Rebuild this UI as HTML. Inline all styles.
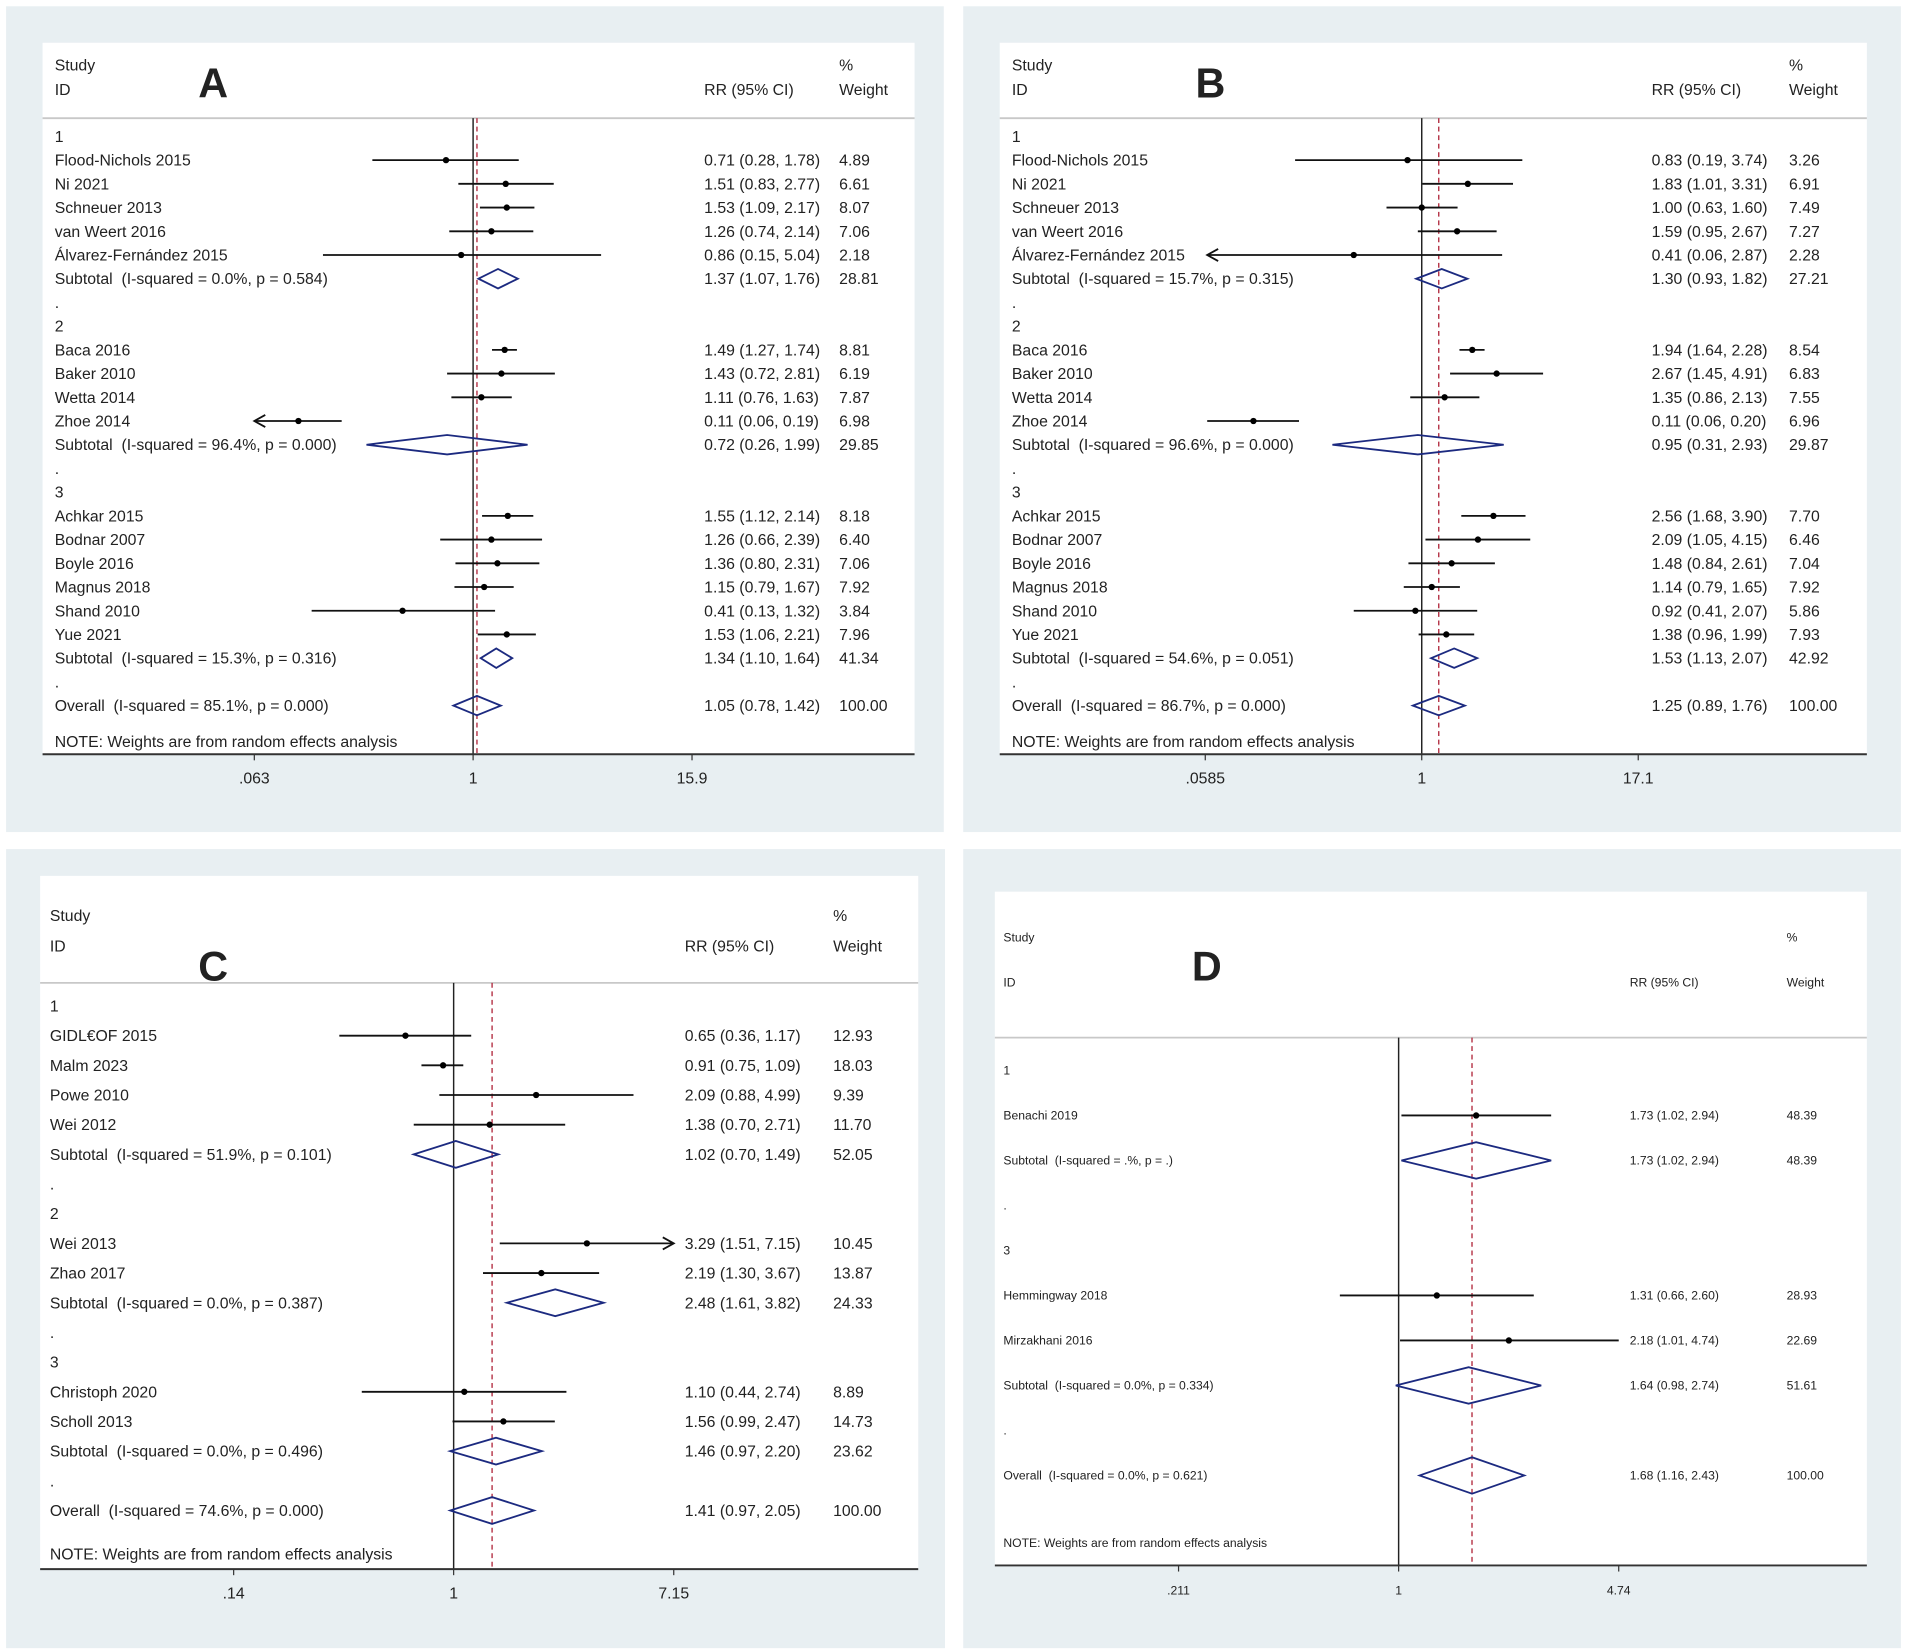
<!DOCTYPE html>
<html><head><meta charset="utf-8">
<style>
html,body{margin:0;padding:0;background:#fff;}
svg{display:block;}
text{font-family:"Liberation Sans",sans-serif;fill:#222;white-space:pre;}
</style></head>
<body>
<svg id="fig" width="1907" height="1652" viewBox="0 0 1568 1358" xmlns="http://www.w3.org/2000/svg"></svg>
<script>
// ---------- Panel A data ----------
const labelsA=["1","Flood-Nichols 2015","Ni 2021","Schneuer 2013","van Weert 2016","Álvarez-Fernández 2015","Subtotal  (I-squared = 0.0%, p = 0.584)",".","2","Baca 2016","Baker 2010","Wetta 2014","Zhoe 2014","Subtotal  (I-squared = 96.4%, p = 0.000)",".","3","Achkar 2015","Bodnar 2007","Boyle 2016","Magnus 2018","Shand 2010","Yue 2021","Subtotal  (I-squared = 15.3%, p = 0.316)",".","Overall  (I-squared = 85.1%, p = 0.000)"];
const kindsA=["h","s","s","s","s","s","d","g","h","s","s","s","s","d","g","h","s","s","s","s","s","s","d","g","d"];
const estA=[null,0.71,1.51,1.53,1.26,0.86,1.37,null,null,1.49,1.43,1.11,0.11,0.72,null,null,1.55,1.26,1.36,1.15,0.41,1.53,1.34,null,1.05];
const loA=[null,0.28,0.83,1.09,0.74,0.15,1.07,null,null,1.27,0.72,0.76,0.06,0.26,null,null,1.12,0.66,0.80,0.79,0.13,1.06,1.10,null,0.78];
const hiA=[null,1.78,2.77,2.17,2.14,5.04,1.76,null,null,1.74,2.81,1.63,0.19,1.99,null,null,2.14,2.39,2.31,1.67,1.32,2.21,1.64,null,1.42];
const wA=[null,4.89,6.61,8.07,7.06,2.18,28.81,null,null,8.81,6.19,7.87,6.98,29.85,null,null,8.18,6.40,7.06,7.92,3.84,7.96,41.34,null,100.00];
const arrA=["","","","","","","","","","","","","L","","","","","","","","","","","",""];
const ticksA=[0.063,1,15.9];
const tickLabA=[".063","1","15.9"];
// ---------- Panel B data ----------
const labelsB=["1","Flood-Nichols 2015","Ni 2021","Schneuer 2013","van Weert 2016","Álvarez-Fernández 2015","Subtotal  (I-squared = 15.7%, p = 0.315)",".","2","Baca 2016","Baker 2010","Wetta 2014","Zhoe 2014","Subtotal  (I-squared = 96.6%, p = 0.000)",".","3","Achkar 2015","Bodnar 2007","Boyle 2016","Magnus 2018","Shand 2010","Yue 2021","Subtotal  (I-squared = 54.6%, p = 0.051)",".","Overall  (I-squared = 86.7%, p = 0.000)"];
const kindsB=kindsA.slice();
const estB=[null,0.83,1.83,1.00,1.59,0.41,1.30,null,null,1.94,2.67,1.35,0.11,0.95,null,null,2.56,2.09,1.48,1.14,0.92,1.38,1.53,null,1.25];
const loB=[null,0.19,1.01,0.63,0.95,0.06,0.93,null,null,1.64,1.45,0.86,0.06,0.31,null,null,1.68,1.05,0.84,0.79,0.41,0.96,1.13,null,0.89];
const hiB=[null,3.74,3.31,1.60,2.67,2.87,1.82,null,null,2.28,4.91,2.13,0.20,2.93,null,null,3.90,4.15,2.61,1.65,2.07,1.99,2.07,null,1.76];
const wB=[null,3.26,6.91,7.49,7.27,2.28,27.21,null,null,8.54,6.83,7.55,6.96,29.87,null,null,7.70,6.46,7.04,7.92,5.86,7.93,42.92,null,100.00];
const arrB=["","","","","","L","","","","","","","","","","","","","","","","","","",""];
const ticksB=[0.0585,1,17.1];
const tickLabB=[".0585","1","17.1"];
// ---------- Panel C data ----------
const labelsC=["1","GIDL€OF 2015","Malm 2023","Powe 2010","Wei 2012","Subtotal  (I-squared = 51.9%, p = 0.101)",".","2","Wei 2013","Zhao 2017","Subtotal  (I-squared = 0.0%, p = 0.387)",".","3","Christoph 2020","Scholl 2013","Subtotal  (I-squared = 0.0%, p = 0.496)",".","Overall  (I-squared = 74.6%, p = 0.000)"];
const kindsC=["h","s","s","s","s","d","g","h","s","s","d","g","h","s","s","d","g","d"];
const estC=[null,0.65,0.91,2.09,1.38,1.02,null,null,3.29,2.19,2.48,null,null,1.10,1.56,1.46,null,1.41];
const loC=[null,0.36,0.75,0.88,0.70,0.70,null,null,1.51,1.30,1.61,null,null,0.44,0.99,0.97,null,0.97];
const hiC=[null,1.17,1.09,4.99,2.71,1.49,null,null,7.15,3.67,3.82,null,null,2.74,2.47,2.20,null,2.05];
const wC=[null,12.93,18.03,9.39,11.70,52.05,null,null,10.45,13.87,24.33,null,null,8.89,14.73,23.62,null,100.00];
const arrC=["","","","","","","","","R","","","","","","","","",""];
const ticksC=[0.14,1,7.15];
const tickLabC=[".14","1","7.15"];
// ---------- Panel D data ----------
const labelsD=["1","Benachi 2019","Subtotal  (I-squared = .%, p = .)",".","3","Hemmingway 2018","Mirzakhani 2016","Subtotal  (I-squared = 0.0%, p = 0.334)",".","Overall  (I-squared = 0.0%, p = 0.621)"];
const kindsD=["h","s","d","g","h","s","s","d","g","d"];
const estD=[null,1.73,1.73,null,null,1.31,2.18,1.64,null,1.68];
const loD=[null,1.02,1.02,null,null,0.66,1.01,0.98,null,1.16];
const hiD=[null,2.94,2.94,null,null,2.60,4.74,2.74,null,2.43];
const wD=[null,48.39,48.39,null,null,28.93,22.69,51.61,null,100.00];
const arrD=["","","","","","","","","",""];
const ticksD=[0.211,1,4.74];
const tickLabD=[".211","1","4.74"];

const NS="http://www.w3.org/2000/svg";
const svg=document.getElementById('fig');
function mk(tag,attrs,parent){const e=document.createElementNS(NS,tag);for(const k in attrs)e.setAttribute(k,attrs[k]);(parent||svg).appendChild(e);return e;}

function panel(P){
  const g=mk('g',{});
  
  
  const bg=mk('rect',{x:P.bx,y:P.by,width:P.bw,height:P.bh,fill:'#e8eff2'},g);
  
  
  const wr=mk('rect',{x:P.wx,y:P.wy,width:P.ww,height:P.axisY-P.wy,fill:'#fff'},g);
  
  
  const xs=v=>P.nullX+Math.log(v)*P.k;
  const fs=P.fs;
  const t=(x,y,s,name,extra)=>{const e=mk('text',Object.assign({x:x,y:y,'font-size':fs},extra||{}),g);e.textContent=s;
    
    return e;};
  // header
  t(P.lx,P.hy1,"Study","header-study");
  t(P.lx,P.hy2,"ID","header-id");
  t(P.rrx,P.hy2,"RR (95% CI)","header-rr");
  t(P.wtx,P.hy1,"%","header-percent");
  t(P.wtx,P.hy2,"Weight","header-weight");
  const L=mk('text',{x:P.Lx,y:P.Ly,'font-size':P.Lfs,'font-weight':'bold',fill:'#000'},g);L.textContent=P.id;
  
  
  const hl=mk('line',{x1:P.wx,x2:P.wx+P.ww,y1:P.hlY,y2:P.hlY,stroke:'#c8c8c8','stroke-width':1.5},g);
  
  
  // null & overall lines
  const nl=mk('line',{x1:P.nullX,x2:P.nullX,y1:P.hlY,y2:P.axisY,stroke:'#222','stroke-width':1.2},g);
  
  
  const oi=P.est.length-1;
  const ol=mk('line',{x1:xs(P.est[oi]),x2:xs(P.est[oi]),y1:P.hlY,y2:P.axisY,stroke:'#b0283c','stroke-width':1.1,'stroke-dasharray':'4,3'},g);
  
  
  const tmin=P.ticks[0],tmax=P.ticks[P.ticks.length-1];
  P.labels.forEach((lab,i)=>{
    const y=P.y0+i*P.dy;
    t(P.lx,y+fs*0.35,lab,'row-label');
    if(P.est[i]==null)return;
    const yc=y;
    t(P.rrx,y+fs*0.35,P.est[i].toFixed(2)+" ("+P.lo[i].toFixed(2)+", "+P.hi[i].toFixed(2)+")",'rr-value');
    t(P.wtx,y+fs*0.35,P.w[i].toFixed(2),'weight-value');
    if(P.kinds[i]==='s'){
      let lo=P.lo[i],hi=P.hi[i];
      if(P.arr[i]==='L')lo=Math.max(lo,tmin);
      if(P.arr[i]==='R')hi=Math.min(hi,tmax);
      const ln=mk('line',{x1:xs(lo),x2:xs(hi),y1:yc,y2:yc,stroke:'#111','stroke-width':P.lw},g);
      
      
      if(P.arr[i]){
        const ax=P.arr[i]==='L'?xs(lo):xs(hi),d=P.arr[i]==='L'?1:-1;
        const a=mk('polyline',{points:(ax+d*9)+","+(yc-5)+" "+ax+","+yc+" "+(ax+d*9)+","+(yc+5),fill:'none',stroke:'#111','stroke-width':P.lw},g);
        
        
      }
      const c=mk('circle',{cx:xs(P.est[i]),cy:yc,r:2.6,fill:'#000'},g);
      
      
    } else {
      const h=P.dh;
      const dm=mk('polygon',{points:xs(P.lo[i])+","+yc+" "+xs(P.est[i])+","+(yc-h)+" "+xs(P.hi[i])+","+yc+" "+xs(P.est[i])+","+(yc+h),fill:'none',stroke:'#1c2a80','stroke-width':1.5},g);
      
      
    }
  });
  t(P.lx,P.noteY,"NOTE: Weights are from random effects analysis","note");
  const ax=mk('line',{x1:P.wx,x2:P.wx+P.ww,y1:P.axisY,y2:P.axisY,stroke:'#333','stroke-width':1.6},g);
  
  
  P.ticks.forEach((v,j)=>{
    const tk=mk('line',{x1:xs(v),x2:xs(v),y1:P.axisY,y2:P.axisY+5,stroke:'#333','stroke-width':1},g);
    
    
    t(xs(v),P.axisY+24,P.tickLab[j],'x-tick-label',{'text-anchor':'middle'});
  });
}

panel({id:"A",labels:labelsA,kinds:kindsA,est:estA,lo:loA,hi:hiA,w:wA,arr:arrA,ticks:ticksA,tickLab:tickLabA,
  bx:5,by:5,bw:771,bh:679,wx:35,wy:35,ww:717,axisY:620,hlY:97,nullX:389,k:65.07,
  y0:112,dy:19.5,noteY:614,lx:45,rrx:579,wtx:690,hy1:58,hy2:78,Lx:163,Ly:80,Lfs:34,fs:13,lw:1.5,dh:8});
panel({id:"B",labels:labelsB,kinds:kindsB,est:estB,lo:loB,hi:hiB,w:wB,arr:arrB,ticks:ticksB,tickLab:tickLabB,
  bx:792,by:5,bw:771,bh:679,wx:822,wy:35,ww:713,axisY:620,hlY:97,nullX:1169,k:62.7,
  y0:112,dy:19.5,noteY:614,lx:832,rrx:1358,wtx:1471,hy1:58,hy2:78,Lx:983,Ly:80,Lfs:34,fs:13,lw:1.5,dh:8});
panel({id:"C",labels:labelsC,kinds:kindsC,est:estC,lo:loC,hi:hiC,w:wC,arr:arrC,ticks:ticksC,tickLab:tickLabC,
  bx:5,by:698,bw:772,bh:657,wx:33,wy:720,ww:722,axisY:1290,hlY:808,nullX:373,k:92,
  y0:827,dy:24.4,noteY:1282,lx:41,rrx:563,wtx:685,hy1:757,hy2:782,Lx:163,Ly:806,Lfs:34,fs:13,lw:1.5,dh:11});
panel({id:"D",labels:labelsD,kinds:kindsD,est:estD,lo:loD,hi:hiD,w:wD,arr:arrD,ticks:ticksD,tickLab:tickLabD,
  bx:792,by:698,bw:771,bh:657,wx:818,wy:733,ww:717,axisY:1287,hlY:853,nullX:1150,k:116.3,
  y0:880,dy:37,noteY:1272,lx:825,rrx:1340,wtx:1469,hy1:774,hy2:811,Lx:980,Ly:806,Lfs:34,fs:10,lw:1.5,dh:15});
</script>
</body></html>
